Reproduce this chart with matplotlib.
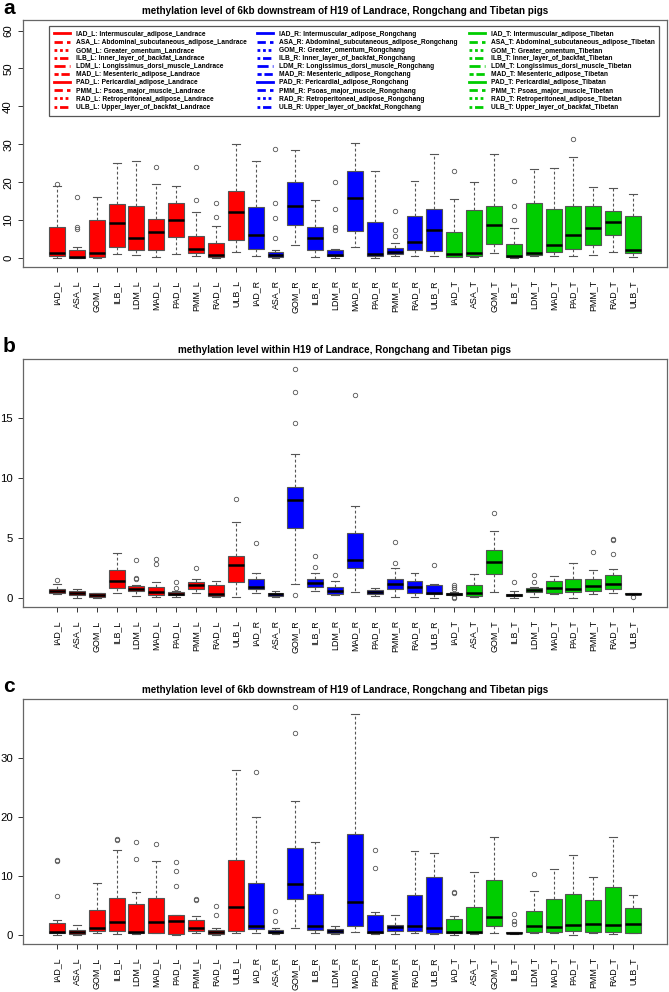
import matplotlib.pyplot as plt
from matplotlib.lines import Line2D

plt.rcParams['font.family'] = ['Liberation Sans', 'DejaVu Sans']

# tissues / breeds
tissues = ['IAD', 'ASA', 'GOM', 'ILB', 'LDM', 'MAD', 'PAD', 'PMM', 'RAD', 'ULB']
tissue_names = ['Intermuscular_adipose', 'Abdominal_subcutaneous_adipose', 'Greater_omentum',
                'Inner_layer_of_backfat', 'Longissimus_dorsi_muscle', 'Mesenteric_adipose',
                'Pericardial_adipose', 'Psoas_major_muscle', 'Retroperitoneal_adipose',
                'Upper_layer_of_backfat']
breeds = ['L', 'R', 'T']
breed_names = ['Landrace', 'Rongchang', 'Tibetan']
breed_colors = ['#FF0000', '#0000FF', '#00CD00']

labels = [t + '_' + b for b in breeds for t in tissues]

# panel a: 6kb downstream of H19
a_lo = [0, 0, 0, 1.0, 0.8, 0.2, 0.9, 0.4, 0, 1.6,
        0.5, 0.1, 3.5, 0.3, 0.1, 2.9, 0.1, 0.4, 0.4, 0.6,
        0.2, 0.2, 1.3, 0, 0.4, 0.6, 0.5, 0.8, 1.5, 0.2]
a_q1 = [0.5, 0.0, 0.2, 2.75, 2.2, 2.0, 5.4, 1.2, 0.2, 4.8,
        2.3, 0.3, 8.8, 2.1, 0.4, 7.2, 0.4, 1.0, 2.1, 1.9,
        0.3, 0.5, 3.6, 0.2, 0.8, 1.5, 2.4, 3.5, 6.1, 1.2]
a_med = [1.2, 0.2, 1.3, 9.2, 5.3, 6.9, 10.0, 2.3, 0.7, 12.2,
         6.1, 0.7, 13.8, 5.3, 0.8, 15.9, 1.1, 1.6, 4.3, 7.3,
         1.1, 1.3, 8.8, 0.4, 1.3, 3.3, 6.0, 8.0, 9.5, 2.2]
a_q3 = [8.2, 2.0, 10.0, 14.3, 13.6, 10.3, 14.4, 5.9, 3.9, 17.6,
        13.5, 1.6, 20.1, 8.1, 2.1, 22.9, 9.4, 2.6, 11.0, 13.0,
        6.8, 12.7, 13.8, 3.6, 14.4, 13.0, 13.6, 13.6, 12.5, 11.0]
a_hi = [19.0, 2.75, 16.0, 25.0, 25.7, 19.6, 19.0, 12.1, 8.3, 30.0,
        25.6, 2.1, 28.5, 15.4, 2.4, 30.4, 23.0, 4.0, 20.3, 27.3,
        15.5, 20.1, 27.3, 7.9, 23.4, 23.7, 26.7, 18.7, 18.5, 16.8]
a_fliers = [[19.6], [16.0, 8.2, 7.5], [], [], [], [24.0], [], [23.9, 15.3], [14.6, 10.9], [],
            [], [28.8, 14.6, 10.6, 5.3], [], [], [20.0, 13.0, 8.2, 7.3], [], [], [12.4, 7.4, 5.7], [], [],
            [22.9], [], [], [20.3, 13.8, 10.1], [], [], [31.5], [], [], []]

# panel b: within H19
b_lo = [0.3, 0, 0, 0.36, 0.14, 0.08, 0.08, 0.36, 0.03, 0.08,
        0.36, 0.03, 1.14, 0.58, 0.22, 0.5, 0.14, 0.03, 0.08, 0,
        0.2, 0.06, 0.5, 0, 0.08, 0.28, 0, 0.3, 0.36, 0.28]
b_q1 = [0.36, 0.22, 0.08, 0.78, 0.58, 0.25, 0.22, 0.72, 0.17, 1.31,
        0.69, 0.17, 5.8, 0.89, 0.3, 2.44, 0.3, 0.72, 0.39, 0.33,
        0.25, 0.11, 1.94, 0.14, 0.5, 0.42, 0.47, 0.56, 0.72, 0.28]
b_med = [0.58, 0.42, 0.22, 1.39, 0.75, 0.5, 0.33, 1.03, 0.33, 2.72,
         0.92, 0.3, 8.11, 1.19, 0.58, 3.11, 0.44, 1.14, 0.92, 0.42,
         0.33, 0.36, 2.94, 0.22, 0.67, 0.83, 0.75, 1.0, 1.17, 0.33]
b_q3 = [0.72, 0.55, 0.36, 2.33, 0.94, 0.89, 0.44, 1.28, 1.08, 3.5,
        1.53, 0.42, 9.22, 1.53, 0.86, 5.42, 0.67, 1.53, 1.36, 1.03,
        0.42, 1.06, 4.0, 0.3, 0.78, 1.36, 1.58, 1.53, 1.86, 0.39]
b_hi = [1.1, 0.72, 0.4, 3.72, 1.03, 1.33, 0.53, 1.58, 1.42, 6.33,
        2.08, 0.55, 12.0, 2.08, 1.42, 7.64, 0.78, 2.47, 2.03, 1.17,
        0.5, 1.94, 5.56, 0.58, 0.92, 1.78, 2.89, 2.31, 2.39, 0.39]
b_fliers = [[1.5], [], [], [], [3.17, 1.64, 1.58], [3.25, 2.8], [1.33, 0.83], [2.47], [], [8.19],
            [4.58], [], [19.08, 17.17, 14.6, 0.22], [3.44, 2.58], [1.89], [16.86], [], [4.67, 2.92], [], [2.69],
            [1.03, 0.86, 0.69, 0.08, 0.0], [], [7.06], [1.28], [1.86, 1.33], [], [], [3.83], [4.86, 4.8, 3.64], [0.03]]

# panel c: 6kb downstream of H19
c_lo = [0.1, 0.1, 0.34, 0.17, 0.23, 0.28, 0.1, 0.34, 0.1, 0.34,
        0.34, 0.23, 1.24, 0.28, 0.23, 0.56, 0.23, 0.23, 0.34, 0.17,
        0.1, 0.23, 0.34, 0.17, 0.34, 0.34, 0.06, 0.34, 0.23, 0.28]
c_q1 = [0.34, 0.23, 0.73, 0.62, 0.34, 0.4, 0.23, 0.68, 0.23, 0.73,
        0.96, 0.34, 6.05, 0.9, 0.4, 1.58, 0.34, 0.62, 0.68, 0.28,
        0.34, 0.34, 1.58, 0.28, 0.45, 0.51, 0.62, 0.51, 0.51, 0.28]
c_med = [0.56, 0.45, 1.19, 2.26, 0.51, 2.15, 2.37, 1.13, 0.51, 4.75,
         1.47, 0.51, 8.59, 1.47, 0.68, 5.65, 0.45, 1.3, 1.58, 1.19,
         0.56, 0.45, 3.1, 0.4, 1.47, 1.3, 1.64, 1.81, 1.64, 1.86]
c_q3 = [2.09, 0.85, 4.29, 6.27, 5.31, 6.27, 3.39, 2.54, 0.85, 12.66,
        8.76, 0.79, 14.7, 6.9, 1.02, 17.1, 3.39, 1.75, 6.84, 9.77,
        2.77, 4.69, 9.38, 0.56, 4.12, 6.1, 6.9, 5.88, 8.08, 4.58]
c_hi = [2.54, 1.64, 8.87, 14.4, 7.29, 12.6, 3.45, 3.16, 1.13, 27.97,
        20.0, 1.13, 22.7, 15.8, 1.58, 37.3, 3.84, 3.39, 14.2, 13.95,
        3.16, 10.7, 16.5, 0.6, 7.46, 11.2, 13.5, 9.83, 16.55, 6.78]
c_fliers = [[12.7, 12.6, 6.55], [], [], [16.2, 16.1], [15.8, 12.8], [15.4], [12.4, 10.8, 8.25], [6.16, 5.93], [4.86, 3.39], [],
            [27.6], [4.07, 2.37], [38.5, 34.1], [], [], [], [14.35, 11.36], [], [], [],
            [7.3, 7.1], [], [], [3.6, 2.43, 1.86], [10.4], [], [], [], [], []]

titles = ['methylation level of 6kb downstream of H19 of Landrace, Rongchang and Tibetan pigs',
          'methylation level within H19 of Landrace, Rongchang and Tibetan pigs',
          'methylation level of 6kb downstream of H19 of Landrace, Rongchang and Tibetan pigs']


def draw_panel(ax, lo, q1, med, q3, hi, fliers, title, ylim, yticks, rot):
    stats = []
    for i in range(len(labels)):
        stats.append(dict(whislo=lo[i], q1=q1[i], med=med[i], q3=q3[i], whishi=hi[i], fliers=fliers[i]))
    pos = list(range(1, len(labels) + 1))
    bp = ax.bxp(stats, positions=pos, widths=0.8, patch_artist=True,
                boxprops=dict(edgecolor='#555555', linewidth=0.8),
                medianprops=dict(color='black', linewidth=1.8),
                whiskerprops=dict(color='#555555', linestyle=(0, (2.5, 2)), linewidth=0.8),
                capprops=dict(color='#555555', linewidth=0.8),
                capwidths=0.4,
                flierprops=dict(marker='o', markerfacecolor='none', markeredgecolor='#555555',
                                markersize=3.2, markeredgewidth=0.6))
    for i, patch in enumerate(bp['boxes']):
        patch.set_facecolor(breed_colors[i // 10])
    ax.set_xlim(-0.71, 31.71)
    ax.set_ylim(ylim)
    ax.set_xticks(pos, labels, rotation=90, fontsize=6.4)
    ax.set_yticks(yticks)
    ax.tick_params(axis='y', labelsize=8.2, length=3.6, width=0.7, colors='#333333', labelcolor='black')
    ax.tick_params(axis='x', length=3.6, width=0.7, colors='#333333', labelcolor='black', pad=6)
    if rot:
        for t in ax.get_yticklabels():
            t.set_rotation(90)
            t.set_va('center')
    for s in ax.spines.values():
        s.set_color('#666666')
        s.set_linewidth(0.9)
    ax.set_title(title, fontsize=7.1, fontweight='bold', pad=4)


fig = plt.figure(figsize=(6.69, 9.92), dpi=100)
ax_a = fig.add_axes([23/669, 1-267/992, 644/669, 247/992])
ax_b = fig.add_axes([23/669, 1-607/992, 644/669, 248/992])
ax_c = fig.add_axes([23/669, 1-944/992, 644/669, 245/992])

draw_panel(ax_a, a_lo, a_q1, a_med, a_q3, a_hi, a_fliers, titles[0], (-2.4, 62.8), [0, 10, 20, 30, 40, 50, 60], True)
draw_panel(ax_b, b_lo, b_q1, b_med, b_q3, b_hi, b_fliers, titles[1], (-0.78, 19.9), [0, 5, 10, 15], False)
draw_panel(ax_c, c_lo, c_q1, c_med, c_q3, c_hi, c_fliers, titles[2], (-1.5, 39.9), [0, 10, 20, 30], False)

# legend in panel a
dashes = ['-', (0, (3, 1.5)), (0, (1, 1)), (0, (1, 1, 3, 1)), (0, (4, 1.5)), (0, (1.5, 1, 3, 1))]
handles = []
leg_labels = []
for b in range(3):
    for t in range(10):
        handles.append(Line2D([], [], color=breed_colors[b], linewidth=2, linestyle=dashes[t % 6]))
        name = breed_names[b]
        if tissues[t] == 'PAD' and breeds[b] == 'T':
            name = 'Tibatan'
        leg_labels.append(tissues[t] + '_' + breeds[b] + ': ' + tissue_names[t] + '_' + name)
leg = ax_a.legend(handles, leg_labels, ncol=3, loc='upper left',
                  bbox_to_anchor=((46-23)/644, 1-(22.7-20)/247),
                  prop=dict(size=4.8, weight='bold'), handlelength=2.4, handletextpad=0.9,
                  columnspacing=1.6, labelspacing=0.17, borderpad=0.7,
                  fancybox=False, edgecolor='#555555', framealpha=1)
leg.get_frame().set_linewidth(0.9)

fig.text(3/669, 1-8/992, 'a', fontsize=15, fontweight='bold', va='center', ha='left')
fig.text(3/669, 1-346/992, 'b', fontsize=15, fontweight='bold', va='center', ha='left')
fig.text(3/669, 1-686/992, 'c', fontsize=15, fontweight='bold', va='center', ha='left')

fig.savefig('out.png', dpi=100)
